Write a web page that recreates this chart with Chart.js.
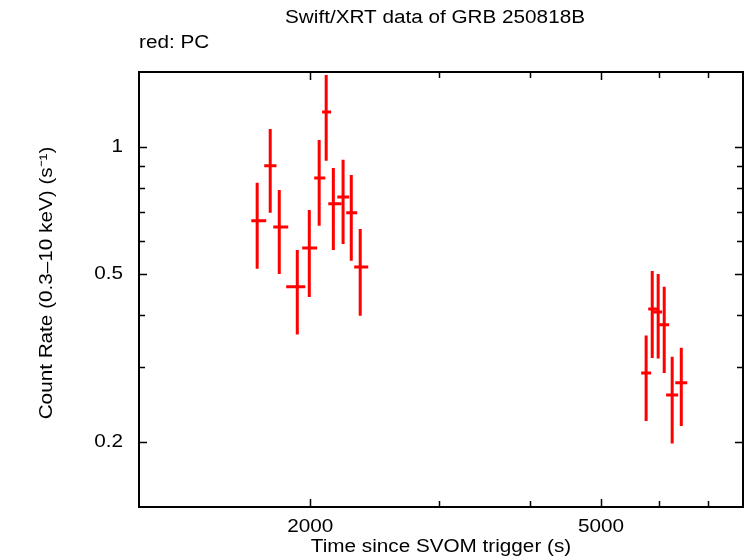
<!DOCTYPE html>
<html><head><meta charset="utf-8">
<script src="https://cdn.jsdelivr.net/npm/chart.js@4"></script>
<style>body{margin:0;background:#fff}</style></head>
<body><canvas id="c" width="746" height="558"></canvas>
<script>
const tMid=[1692,1763,1814,1920,1994,2057,2103,2151,2218,2276,2341,5763,5875,5986,6101,6256,6438];
const tLo =[1661,1730,1780,1854,1950,2025,2076,2117,2178,2240,2297,5674,5801,5893,6005,6138,6317];
const tHi =[1741,1798,1866,1969,2044,2097,2136,2208,2261,2319,2401,5855,5968,6062,6197,6375,6560];
const rate=[0.668,0.902,0.646,0.466,0.576,0.844,1.210,0.733,0.761,0.698,0.519,0.291,0.413,0.406,0.379,0.258,0.276];
const rLo =[0.514,0.698,0.500,0.359,0.441,0.650,0.927,0.570,0.589,0.537,0.398,0.224,0.316,0.315,0.291,0.198,0.218];
const rHi =[0.822,1.103,0.791,0.570,0.709,1.039,1.481,0.892,0.932,0.858,0.639,0.357,0.508,0.500,0.466,0.318,0.334];
const xTicks=[2000,3000,4000,5000,6000,7000];
const xLabels=[2000,5000];
const yTicks=[0.2,0.3,0.4,0.5,0.6,0.7,0.8,0.9,1];
const yLabels=[0.2,0.5,1];
const FONT='"Liberation Sans", Arial, sans-serif';
const SX=1.15;

function txt(c,s,x,y,align,rot){
  c.save();c.translate(x,y);if(rot)c.rotate(rot);c.scale(SX,1);
  c.textAlign=align;c.textBaseline='middle';c.fillText(s,0,0);c.restore();
}

const deco={id:'deco',afterDatasetsDraw(ch){
  const c=ch.ctx,a=ch.chartArea,x=ch.scales.x,y=ch.scales.y;
  c.save();
  c.strokeStyle='#ff0000';c.lineWidth=3;c.lineCap='butt';
  for(let i=0;i<tMid.length;i++){
    const px=x.getPixelForValue(tMid[i]),py=y.getPixelForValue(rate[i]);
    c.beginPath();
    c.moveTo(x.getPixelForValue(tLo[i]),py);c.lineTo(x.getPixelForValue(tHi[i]),py);
    c.moveTo(px,y.getPixelForValue(rLo[i]));c.lineTo(px,y.getPixelForValue(rHi[i]));
    c.stroke();
  }
  c.strokeStyle='#000';c.lineWidth=2;
  c.strokeRect(a.left,a.top,a.right-a.left,a.bottom-a.top);
  c.lineWidth=1.5;c.beginPath();
  xTicks.forEach(v=>{const p=Math.round(x.getPixelForValue(v))+0.5,l=xLabels.includes(v)?8:6;
    c.moveTo(p,a.bottom);c.lineTo(p,a.bottom-l);c.moveTo(p,a.top);c.lineTo(p,a.top+l);});
  yTicks.forEach(v=>{const p=Math.round(y.getPixelForValue(v))+0.5,l=yLabels.includes(v)?8:6;
    c.moveTo(a.left,p);c.lineTo(a.left+l,p);c.moveTo(a.right,p);c.lineTo(a.right-l,p);});
  c.stroke();
  c.fillStyle='#000';c.font='18px '+FONT;
  xLabels.forEach(v=>txt(c,String(v),x.getPixelForValue(v),527,'center'));
  yLabels.forEach(v=>txt(c,String(v),123,y.getPixelForValue(v),'right'));
  txt(c,'Time since SVOM trigger (s)',441,547,'center');
  txt(c,'Swift/XRT data of GRB 250818B',435,18,'center');
  txt(c,'red: PC',139,43,'left');
  txt(c,'Count Rate (0.3\u201310 keV) (s\u207B\u00B9)',47,283,'center',-Math.PI/2);
  c.restore();
}};

new Chart(document.getElementById('c'),{
  type:'scatter',
  data:{datasets:[{data:tMid.map((t,i)=>({x:t,y:rate[i]})),pointRadius:0,showLine:false}]},
  options:{responsive:false,animation:false,devicePixelRatio:1,
    layout:{padding:{left:0,top:72,right:3,bottom:0}},
    plugins:{legend:{display:false},tooltip:{enabled:false}},
    scales:{
      x:{type:'logarithmic',min:1166,max:7820,grid:{display:false},border:{display:false},
         ticks:{display:false},afterFit:s=>{s.height=51;}},
      y:{type:'logarithmic',min:0.140,max:1.506,grid:{display:false},border:{display:false},
         ticks:{display:false},afterFit:s=>{s.width=139;}}
    }},
  plugins:[deco]
});
</script></body></html>
